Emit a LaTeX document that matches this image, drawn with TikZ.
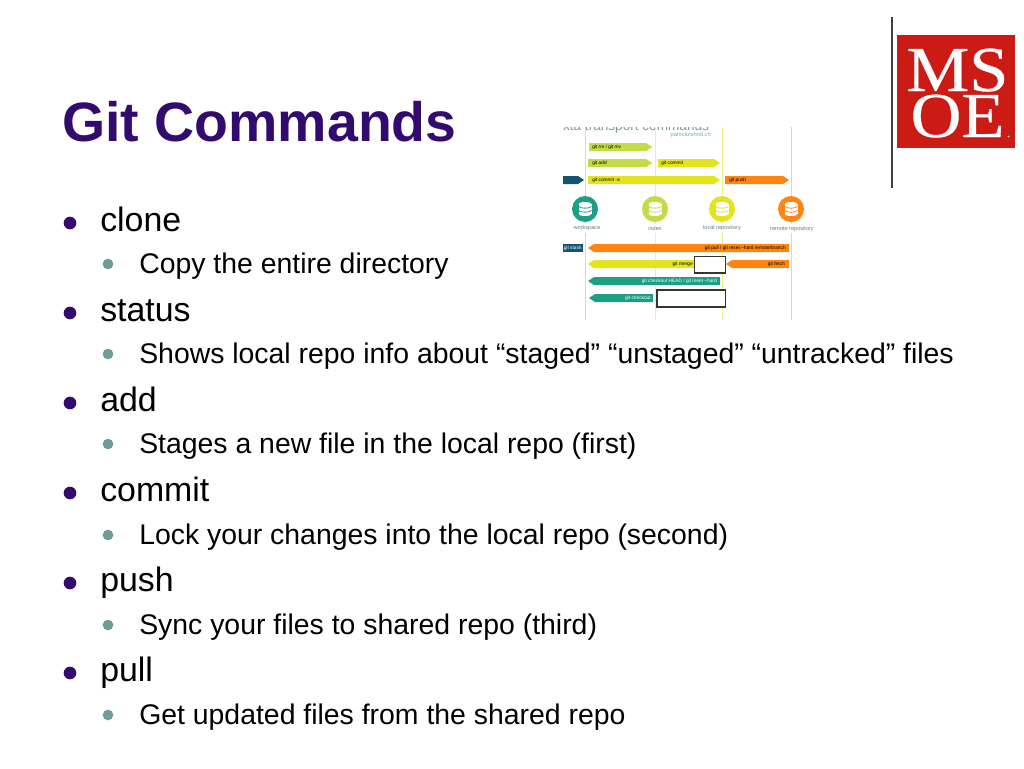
\documentclass[tikz,border=0pt]{standalone}
\usepackage{fontspec}
\setmainfont{Liberation Sans}
\newfontfamily\serifx[RawFeature={embolden=0.5}]{Liberation Serif}
\definecolor{titlec}{HTML}{330A6E}
\definecolor{subbul}{HTML}{6E9C96}
\definecolor{cteal}{HTML}{1F9E86}
\definecolor{clime}{HTML}{C5DB45}
\definecolor{cyel}{HTML}{E3E31E}
\definecolor{corg}{HTML}{FF8412}
\definecolor{cdark}{HTML}{14546E}
\definecolor{cred}{HTML}{CC1A14}
\definecolor{clabel}{HTML}{5F7F8A}
\tikzset{
 titletext/.style={anchor=base west,inner sep=0pt,text=titlec,font=\fontsize{41.6}{42}\selectfont\bfseries},
 levelone/.style={anchor=base west,inner sep=0pt,text=black,font=\fontsize{25.4}{26}\selectfont},
 leveltwo/.style={anchor=base west,inner sep=0pt,text=black,font=\fontsize{21.3}{22}\selectfont},
 bulone/.style={circle,fill=titlec,minimum size=9.5pt,inner sep=0pt},
 bultwo/.style={circle,fill=subbul,minimum size=8pt,inner sep=0pt},
 tiny/.style={inner sep=0pt,font=\fontsize{3.6}{4}\selectfont},
 lane/.style={line width=0.6pt},
 blank/.style={draw=black!80,fill=white,line width=0.9pt},
 logotext/.style={inner sep=0pt,anchor=base,text=white,font=\serifx\fontsize{48}{48}\selectfont,xscale=1.1},
}
\newcommand{\rarr}[4]{\fill[#4] (#1,#3-4) -- (#2-6,#3-4) -- (#2,#3) -- (#2-6,#3+4) -- (#1,#3+4) -- cycle;}
\newcommand{\larr}[4]{\fill[#4] (#1+6,#3-4) -- (#2,#3-4) -- (#2,#3+4) -- (#1+6,#3+4) -- (#1,#3) -- cycle;}
% database icon: white stack cut by two curved bands of the disc's colour
\newcommand{\dbicon}[3]{%
 \fill[#3] (#1,#2) circle (13);
 \fill[white] (#1,#2-5) ellipse (6.5 and 2);
 \fill[white] (#1-6.5,#2-5) rectangle (#1+6.5,#2+5);
 \fill[white] (#1,#2+5) ellipse (6.5 and 2);
 \draw[#3,line width=0.6pt] (#1-6.5,#2-2.6) .. controls (#1-5,#2-0.2) and (#1+5,#2-0.2) .. (#1+6.5,#2-2.6);
 \draw[#3,line width=0.6pt] (#1-6.5,#2+1.4) .. controls (#1-5,#2+3.8) and (#1+5,#2+3.8) .. (#1+6.5,#2+1.4);
}
\begin{document}
\begin{tikzpicture}[x=0.75pt,y=-0.75pt]
\useasboundingbox (0,0) rectangle (1024,768);
\fill[white] (0,0) rectangle (1024,768);
\node[titletext] (title) at (62,141) {Git Commands};

\foreach \nm/\yy/\tx in {a/231/clone,b/321/status,c/411/add,d/501/commit,e/591/push,f/681/pull}{
  \node[bulone] (bul\nm) at (70,\yy-8) {};
  \node[levelone] (item\nm) at (100,\yy) {\tx};
}
\foreach \nm/\yy/\tx in {
 a/273/{Copy the entire directory},
 b/363/{Shows local repo info about “staged” “unstaged” “untracked” files},
 c/453/{Stages a new file in the local repo (first)},
 d/544/{Lock your changes into the local repo (second)},
 e/634/{Sync your files to shared repo (third)},
 f/724/{Get updated files from the shared repo}}{
  \node[bultwo] (sbul\nm) at (108,\yy-9) {};
  \node[leveltwo] (sub\nm) at (139,\yy) {\tx};
}

% embedded picture
\begin{scope}
 \clip (560,127) rectangle (830,322);
 \node[inner sep=0pt,anchor=base,text=clabel!80,font=\fontsize{10.2}{11}\selectfont] (cliptitle) at (636,130.5) {xta transport commands};
\end{scope}
\node[inner sep=0pt,anchor=east,text=cteal!70,font=\fontsize{4.3}{5}\selectfont] (author) at (711,135) {patrickzahnd.ch};

\draw[lane,blue!30!cteal!25] (585,127) -- (585,320);
\draw[lane,clime!40] (655,127) -- (655,320);
\draw[lane,cyel!50] (722,127) -- (722,320);
\draw[lane,corg!40] (791,127) -- (791,320);

\rarr{589}{652}{147}{clime}
\node[tiny,anchor=west] (t1) at (592,147) {git rm / git mv};
\rarr{588}{652}{163}{clime}
\node[tiny,anchor=west] (t2) at (592,163) {git add};
\rarr{658}{720}{163}{cyel}
\node[tiny,anchor=west] (t3) at (661,163) {git commit};
\rarr{563}{584}{180}{cdark}
\rarr{588}{720}{180}{cyel}
\node[tiny,anchor=west] (t4) at (592,180) {git commit -a};
\rarr{725}{789}{180}{corg}
\node[tiny,anchor=west] (t5) at (729,180) {git push};

\dbicon{585}{209}{cteal}
\dbicon{655}{209}{clime}
\dbicon{722}{209}{cyel}
\dbicon{791}{209}{corg}

\fill[white] (575,224) rectangle (815,233);
\foreach \nm/\xx/\yy/\tx in {w/587/228/workspace,i/655/228/index,l/722/228/local repository,r/792/229/remote repository}{
  \node[tiny,text=clabel,font=\fontsize{4.2}{5}\selectfont] (lab\nm) at (\xx,\yy) {\tx};
}

\fill[cdark] (563,244) rectangle (583,252);
\node[tiny,anchor=west,text=white] (t6) at (563.5,248) {git stash};
\larr{588}{789}{248}{corg}
\node[tiny,anchor=east] (t7) at (786,248) {git pull / git reset --hard remote/branch};
\larr{588}{700}{264}{cyel}
\node[tiny,anchor=east] (t8) at (693,264) {git merge};
\larr{726}{789}{264}{corg}
\node[tiny,anchor=east] (t9) at (785,264) {git fetch};
\larr{588}{720}{281}{cteal}
\node[tiny,anchor=east,text=white] (t10) at (717,281) {git checkout HEAD / git reset --hard};
\larr{589}{653}{298}{cteal}
\node[tiny,anchor=east,text=white] (t11) at (651,298) {git checkout};
\draw[blank] (694.5,256.5) rectangle (725.5,273);
\draw[blank] (657,290) rectangle (725.5,307);

% logo
\draw[black!75,line width=1.1pt] (892,17) -- (892,188);
\fill[cred] (897,35) rectangle (1015,148);
\node[logotext] (ms) at (957.5,91) {MS};
\node[logotext] (oe) at (957.5,137) {OE};
\fill[white] (1008.5,136.5) circle (0.8);
\end{tikzpicture}
\end{document}
